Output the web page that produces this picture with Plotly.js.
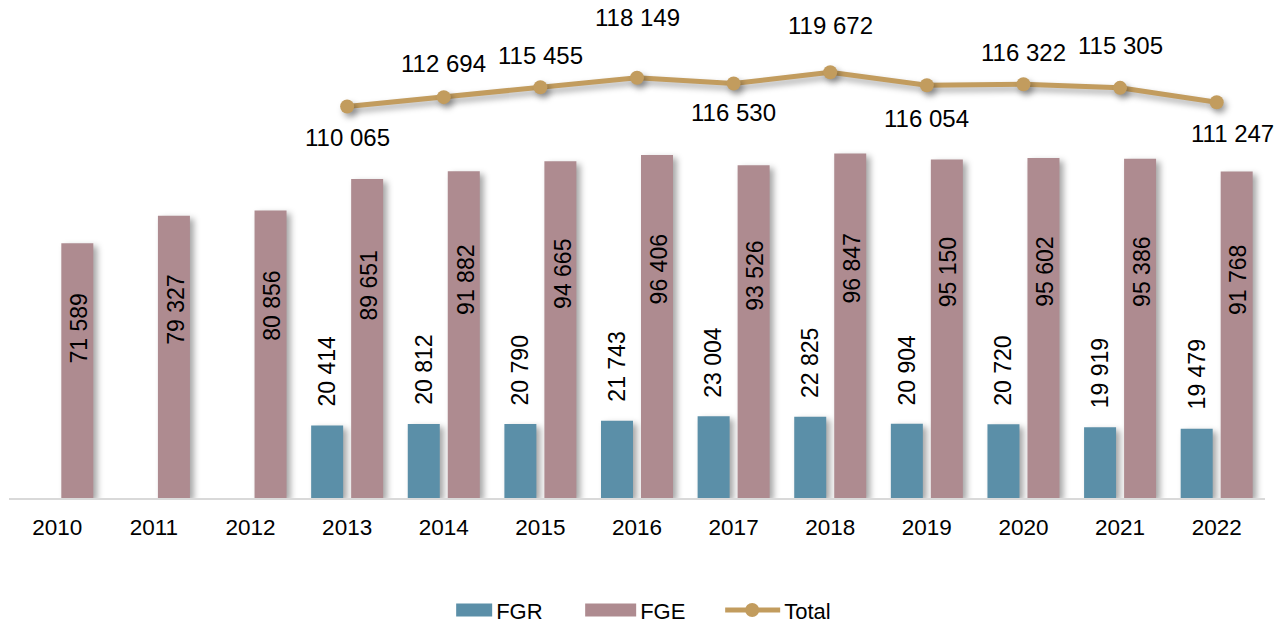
<!DOCTYPE html>
<html>
<head>
<meta charset="utf-8">
<script src="https://cdn.plot.ly/plotly-3.0.1.min.js"></script>
<style>
  html, body { margin: 0; padding: 0; background: #fff; }
  #chart { width: 1287px; height: 624px; }
  .js-plotly-plot .barlayer .point path { filter: drop-shadow(4px 3px 3px rgba(0,0,0,0.35)); }
  .js-plotly-plot .scatterlayer .js-line { filter: drop-shadow(3px 4px 3px rgba(0,0,0,0.35)); }
  .js-plotly-plot .scatterlayer .points path { filter: drop-shadow(3px 4px 3px rgba(0,0,0,0.35)); }
</style>
</head>
<body>
<div id="chart"></div>
<script>
// ---- data ----
const years = ['2010','2011','2012','2013','2014','2015','2016','2017','2018','2019','2020','2021','2022'];
const fgr   = [null, null, null, 20414, 20812, 20790, 21743, 23004, 22825, 20904, 20720, 19919, 19479];
const fge   = [71589, 79327, 80856, 89651, 91882, 94665, 96406, 93526, 96847, 95150, 95602, 95386, 91768];
const total = [null, null, null, 110065, 112694, 115455, 118149, 116530, 119672, 116054, 116322, 115305, 111247];

// ---- label placement (pixels, positive = up) ----
const totalLabelShiftY = [0, 0, 0, -31, 34, 32, 60, -29, 47, -33, 32, 42, -31];
const totalLabelShiftX = [0, 0, 0, 0, 0, 0, 0, 0, 0, 0, 0, 0, 16];

const fmt = v => String(v).replace(/\B(?=(\d{3})+(?!\d))/g, ' ');

const cFGR = '#5B8FA8';
const cFGE = '#AE8B90';
const cTot = '#C29C5E';
const font = 'Liberation Sans, Arial, sans-serif';

const traces = [
  { type: 'bar', name: 'FGR', x: years, y: fgr, marker: { color: cFGR }, hoverinfo: 'none' },
  { type: 'bar', name: 'FGE', x: years, y: fge, marker: { color: cFGE }, hoverinfo: 'none' },
  { type: 'scatter', mode: 'lines+markers', name: 'Total', x: years, y: total,
    line: { color: cTot, width: 5 }, marker: { color: cTot, size: 14 }, hoverinfo: 'none' }
];

const annotations = [];
const barOffset = 20;
years.forEach((yr, i) => {
  // category axis: annotations positioned by category index
  if (fgr[i] != null) {
    annotations.push({ x: i, y: fgr[i], xref: 'x', yref: 'y', text: fmt(fgr[i]), textangle: -90,
      showarrow: false, xanchor: 'center', yanchor: 'middle', xshift: -barOffset, yshift: 54,
      font: { family: font, size: 23, color: '#000' } });
  }
  if (fge[i] != null) {
    annotations.push({ x: i, y: fge[i] * 2 / 3, xref: 'x', yref: 'y', text: fmt(fge[i]), textangle: -90,
      showarrow: false, xanchor: 'center', yanchor: 'middle', xshift: barOffset + 2,
      font: { family: font, size: 23, color: '#000' } });
  }
  if (total[i] != null) {
    annotations.push({ x: i, y: total[i], xref: 'x', yref: 'y', text: fmt(total[i]),
      showarrow: false, xanchor: 'center', yanchor: 'middle',
      xshift: totalLabelShiftX[i], yshift: totalLabelShiftY[i],
      font: { family: font, size: 24, color: '#000' } });
  }
});

const layout = {
  width: 1287, height: 624,
  margin: { l: 9, r: 22, t: 0, b: 126, autoexpand: false },
  paper_bgcolor: '#fff', plot_bgcolor: '#fff',
  barmode: 'group', bargap: 0.172, bargroupgap: 0.2,
  showlegend: true,
  legend: { orientation: 'h', x: 0.528, xanchor: 'center', y: -0.2535, yanchor: 'bottom',
    font: { family: font, size: 22, color: '#000' }, entrywidth: 99, entrywidthmode: 'pixels' },
  xaxis: { type: 'category', range: [-0.5, years.length - 0.5], showline: true, linecolor: '#D9D9D9', linewidth: 1.5,
    ticks: 'outside', ticklen: 8, tickcolor: 'rgba(0,0,0,0)', showgrid: false, zeroline: false,
    tickfont: { family: font, size: 22.5, color: '#000' }, fixedrange: true },
  yaxis: { range: [0, 140000], visible: false, showgrid: false, zeroline: false, fixedrange: true },
  annotations: annotations,
  font: { family: font }
};

Plotly.newPlot('chart', traces, layout, { displayModeBar: false, staticPlot: true }).then(gd => {
  // widen legend swatches to match the reference style
  const items = gd.querySelectorAll('.legend .traces');
  items.forEach((g, idx) => {
    if (idx < 2) {
      g.querySelectorAll('.legendpoints path').forEach(p => p.setAttribute('d', 'M16,6.5H-35V-6.5H16Z'));
    } else {
      g.querySelectorAll('.legendlines path').forEach(p => p.setAttribute('d', 'M-19,0h55'));
      g.querySelectorAll('.legendpoints path').forEach(p => p.setAttribute('transform', 'translate(8,0)'));
    }
  });
  // nudge legend down to the reference position
  const leg = gd.querySelector('.legend');
  if (leg) {
    const t = leg.getAttribute('transform') || '';
    const m = t.match(/translate\(\s*([-\d.]+)[ ,]+([-\d.]+)\s*\)/);
    if (m) leg.setAttribute('transform', `translate(${parseFloat(m[1])},${parseFloat(m[2]) + 7})`);
  }
});
</script>
</body>
</html>
